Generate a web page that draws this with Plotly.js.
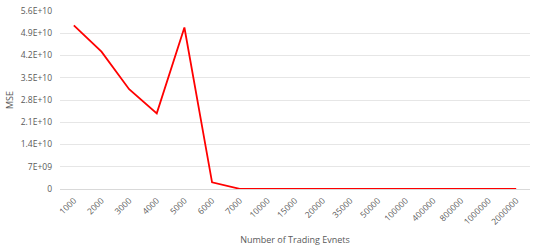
<!DOCTYPE html>
<html><head><meta charset="utf-8">
<script src="https://cdn.plot.ly/plotly-3.0.1.min.js"></script>
<style>html,body{margin:0;padding:0;background:#fff}#c{width:540px;height:246px}</style>
</head><body><div id="c"></div>
<script>
const categories = ["1000","2000","3000","4000","5000","6000","7000","10000","15000","20000","35000","50000","100000","400000","800000","1000000","2000000"];
const mse = [5.15e10, 4.32e10, 3.14e10, 2.38e10, 5.08e10, 2.1e9, 5e7, 2e7, 1e7, 1e7, 5e6, 5e6, 3e6, 2e6, 2e6, 2e6, 2e6];
const yTickVals = [0, 7e9, 1.4e10, 2.1e10, 2.8e10, 3.5e10, 4.2e10, 4.9e10, 5.6e10];
const yTickText = ["0","7E+09","1.4E+10","2.1E+10","2.8E+10","3.5E+10","4.2E+10","4.9E+10","5.6E+10"];

Plotly.newPlot('c', [{
  x: categories, y: mse, type: 'scatter', mode: 'lines',
  line: {color: '#ff0000', width: 1.8}
}], {
  width: 540, height: 246,
  margin: {l: 60, r: 10, t: 11, b: 57},
  paper_bgcolor: '#fff', plot_bgcolor: '#fff',
  font: {family: 'Open Sans, sans-serif', size: 8.5, color: '#595959'},
  showlegend: false,
  xaxis: {
    type: 'category', range: [-0.5, categories.length - 0.5], tickangle: -45, showgrid: false, zeroline: false,
    showline: false, ticks: '', tickfont: {size: 8.5, color: '#595959'}, ticklabelstandoff: 4,
    title: {text: 'Number of Trading Evnets', font: {size: 9, color: '#595959'}, standoff: 13},
    automargin: false
  },
  yaxis: {
    range: [0, 5.6e10], tickvals: yTickVals, ticktext: yTickText,
    gridcolor: '#e6e6e6', gridwidth: 1, zeroline: true, zerolinecolor: '#d9d9d9',
    showline: false, ticks: '', tickfont: {size: 8.5, color: '#595959'}, ticklabelstandoff: 7,
    title: {text: 'MSE', font: {size: 9, color: '#595959'}, standoff: 5},
    automargin: false
  }
}, {staticPlot: true});
</script></body></html>
